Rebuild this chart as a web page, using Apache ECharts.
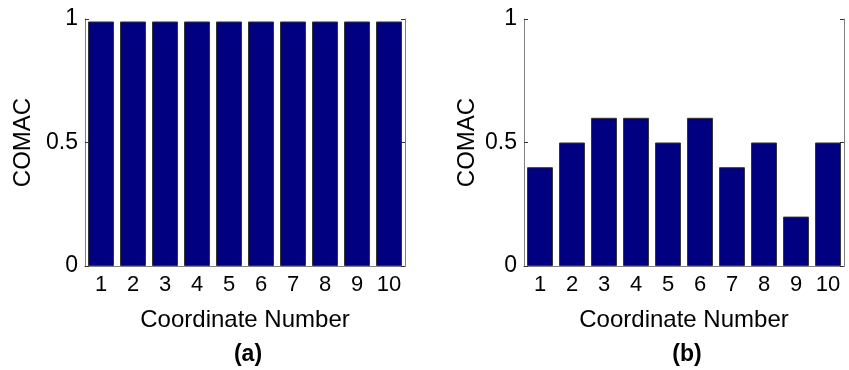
<!DOCTYPE html>
<html>
<head>
<meta charset="utf-8">
<script src="https://cdn.jsdelivr.net/npm/echarts@6/dist/echarts.min.js"></script>
<style>
html,body{margin:0;padding:0;background:#fff;}
#chart{width:849px;height:370px;}
</style>
</head>
<body>
<div id="chart"></div>
<script>
var categories = ['1','2','3','4','5','6','7','8','9','10'];
var valuesA = [0.99, 0.99, 0.99, 0.99, 0.99, 0.99, 0.99, 0.99, 0.99, 0.99];
var valuesB = [0.4, 0.5, 0.6, 0.6, 0.5, 0.6, 0.4, 0.5, 0.2, 0.5];
var yTicks = [0, 0.5, 1];
var panelLabels = ['(a)', '(b)'];
var xName = 'Coordinate Number';
var yName = 'COMAC';

var FONT = 'Liberation Sans, Arial, sans-serif';
var frameColor = '#808080';
var grids = [
  {left: 85, top: 19, width: 320, height: 247},
  {left: 524, top: 19, width: 320, height: 247}
];
var yNameGaps = [50, 45];

function xAxes(i) {
  return [{
    type: 'category', gridIndex: i, data: categories, position: 'bottom',
    boundaryGap: true,
    axisLine: {lineStyle: {color: frameColor, width: 1}},
    axisTick: {inside: true, alignWithLabel: true, length: 4, lineStyle: {color: '#333'}},
    axisLabel: {color: '#000', fontSize: 22, fontFamily: FONT, margin: 8},
    name: xName, nameLocation: 'middle', nameGap: 42,
    nameTextStyle: {color: '#000', fontSize: 24, fontFamily: FONT}
  }, {
    type: 'category', gridIndex: i, data: categories, position: 'top',
    boundaryGap: true,
    axisLine: {lineStyle: {color: frameColor, width: 1}},
    axisTick: {inside: true, alignWithLabel: true, length: 4, lineStyle: {color: '#333'}},
    axisLabel: {show: false}
  }];
}
function yAxes(i) {
  return [{
    type: 'value', gridIndex: i, min: yTicks[0], max: yTicks[yTicks.length-1], interval: yTicks[1]-yTicks[0],
    position: 'left',
    axisLine: {show: true, lineStyle: {color: frameColor, width: 1}},
    axisTick: {show: true, inside: true, length: 4, lineStyle: {color: '#333'}},
    splitLine: {show: false},
    axisLabel: {color: '#000', fontSize: 23, fontFamily: FONT, margin: 7},
    name: yName, nameLocation: 'middle', nameGap: yNameGaps[i], nameRotate: 90,
    nameTextStyle: {color: '#000', fontSize: 24, fontFamily: FONT}
  }, {
    type: 'value', gridIndex: i, min: yTicks[0], max: yTicks[yTicks.length-1], interval: yTicks[1]-yTicks[0],
    position: 'right',
    axisLine: {show: true, lineStyle: {color: frameColor, width: 1}},
    axisTick: {show: true, inside: true, length: 4, lineStyle: {color: '#333'}},
    splitLine: {show: false},
    axisLabel: {show: false}
  }];
}

var option = {
  animation: false,
  backgroundColor: '#fff',
  grid: grids,
  title: [
    {text: panelLabels[0], left: 243, top: 338, textAlign: 'center',
     textStyle: {fontSize: 23, fontWeight: 'bold', fontFamily: FONT, color: '#000'}},
    {text: panelLabels[1], left: 682, top: 338, textAlign: 'center',
     textStyle: {fontSize: 23, fontWeight: 'bold', fontFamily: FONT, color: '#000'}}
  ],
  xAxis: xAxes(0).concat(xAxes(1)),
  yAxis: yAxes(0).concat(yAxes(1)),
  series: [
    {type: 'bar', xAxisIndex: 0, yAxisIndex: 0, data: valuesA, barCategoryGap: '19%',
     itemStyle: {color: '#000080', borderColor: '#333', borderWidth: 1}},
    {type: 'bar', xAxisIndex: 2, yAxisIndex: 2, data: valuesB, barCategoryGap: '19%',
     itemStyle: {color: '#000080', borderColor: '#333', borderWidth: 1}}
  ]
};
var chart = echarts.init(document.getElementById('chart'), null, {renderer: 'canvas'});
chart.setOption(option);
</script>
</body>
</html>
